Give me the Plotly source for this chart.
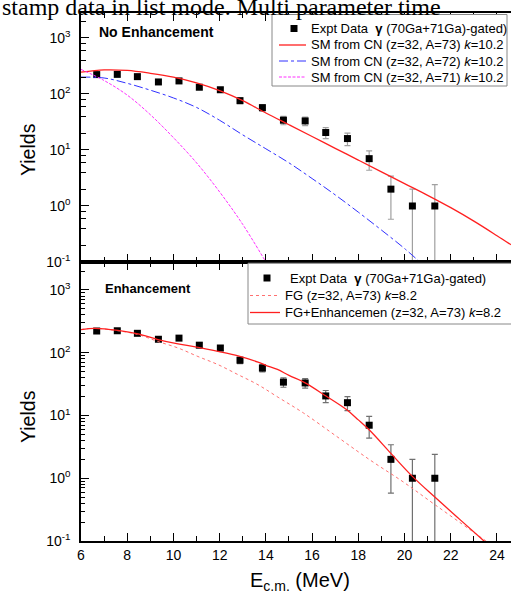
import plotly.graph_objects as go

# ---------------- data ----------------
e_data = [6.68, 7.57, 8.44, 9.35, 10.24, 11.12, 12.03, 12.88, 13.85, 14.76,
          15.70, 16.59, 17.53, 18.47, 19.41, 20.34, 21.31]
y_data = [222, 224, 204, 164, 171, 132, 119, 76, 57, 34,
          33, 20.5, 16, 7, 2.0, 1.0, 1.0]
err_plus = [15, 15, 14, 13, 13, 11.5, 11, 8.7, 7.5, 5.8,
            5.7, 4.5, 4.0, 2.65, 1.42, 1.0, 1.4]
err_minus = [15, 15, 14, 13, 13, 11.5, 11, 8.7, 7.5, 5.8,
             5.7, 4.5, 4.0, 2.65, 1.42, 0.99, 0.99]

# top panel: SM from CN
e_a73 = [6, 7, 8, 9, 10, 11, 12, 13, 14, 15, 16, 17, 18, 19, 20, 21, 22, 23, 24, 24.6]
y_a73 = [245, 269, 263, 234, 200, 158, 115, 75.9, 45.7, 28.2, 17.4, 10.7, 6.61,
         4.07, 2.51, 1.55, 0.933, 0.537, 0.295, 0.204]
e_a72 = [6, 7, 8, 9, 10, 11, 12, 13, 14, 15, 16, 17, 18, 19, 20, 20.8]
y_a72 = [200, 193, 155, 117, 85, 57.5, 33.9, 18.6, 10.5, 5.89, 3.09, 1.58,
         0.776, 0.372, 0.174, 0.089]
e_a71 = [6, 7, 8, 9, 10, 11, 12, 13, 14, 14.1]
y_a71 = [275, 174, 95.5, 42.7, 16.6, 5.89, 1.78, 0.468, 0.1, 0.085]

# bottom panel: FG and FG+Enhancement
e_fge = [6, 6.6, 7.6, 8.47, 9.33, 10.2, 11.06, 11.93, 12.8, 13.66, 14.0, 14.5, 15.0,
         15.7, 16.6, 17.5, 18.0, 18.5, 19.4, 20.34, 21.31, 22.4, 23.5]
y_fge = [234, 245, 227, 200, 162, 138, 122, 105, 89.1, 70.8, 63.1, 54.3, 43.6,
         33.1, 20.4, 12.3, 8.51, 5.75, 2.51, 1.07, 0.501, 0.219, 0.0955]
e_fg = [6, 6.6, 7.6, 8.47, 9.33, 10.2, 11.06, 11.93, 12.8, 13.66, 14.53, 15.62,
        17.07, 18.51, 19.95, 21.31, 22.84, 23.6]
y_fg = [234, 245, 224, 195, 151, 119, 87.1, 64.6, 44.7, 30.9, 19.5, 11.0,
        4.62, 1.95, 0.871, 0.380, 0.151, 0.0955]

x_ticks = [6, 8, 10, 12, 14, 16, 18, 20, 22, 24]
y_tickvals = [0.1, 1, 10, 100, 1000]
y_ticktext = ["10<sup>-1</sup>", "10<sup>0</sup>", "10<sup>1</sup>",
              "10<sup>2</sup>", "10<sup>3</sup>"]

expt_name = "Expt Data&nbsp; <b>γ</b> (70Ga+71Ga)-gated)"
top_names = ["SM from CN (z=32, A=73) <i>k</i>=10.2",
             "SM from CN (z=32, A=72) <i>k</i>=10.2",
             "SM from CN (z=32, A=71) <i>k</i>=10.2"]
bot_names = ["FG (z=32, A=73) <i>k</i>=8.2",
             "FG+Enhancemen (z=32, A=73) <i>k</i>=8.2"]

FONT = "Liberation Sans, Arial, sans-serif"
W, H = 511, 602
ML, MR, MT, MB = 81, 0, 13, 61
PW = W - ML - MR
PH = H - MT - MB
split = (541 - 262) / PH


def px(x):
    return (x - ML) / PW


def py(y):
    return 1 - (y - MT) / PH


RED = "#ff2020"
BLUE = "#3030ff"
MAG = "#ff30ff"
LRED = "#ff7070"

fig = go.Figure()

# ---- top panel ----
fig.add_trace(go.Scatter(
    x=e_data, y=y_data, mode="markers", name=expt_name,
    marker=dict(symbol="square", size=7, color="black"),
    error_y=dict(type="data", symmetric=False, array=err_plus, arrayminus=err_minus,
                 color="#a0a0a0", thickness=1.2, width=3),
    xaxis="x", yaxis="y"))
fig.add_trace(go.Scatter(
    x=e_a73, y=y_a73, mode="lines", line=dict(color=RED, width=1.3, shape="spline"),
    name=top_names[0], xaxis="x", yaxis="y"))
fig.add_trace(go.Scatter(
    x=e_a72, y=y_a72, mode="lines",
    line=dict(color=BLUE, width=1, dash="dashdot", shape="spline"),
    name=top_names[1], xaxis="x", yaxis="y"))
fig.add_trace(go.Scatter(
    x=e_a71, y=y_a71, mode="lines",
    line=dict(color=MAG, width=1, dash="3px,1.5px", shape="spline"),
    name=top_names[2], xaxis="x", yaxis="y"))

# ---- bottom panel ----
fig.add_trace(go.Scatter(
    x=e_data, y=y_data, mode="markers", name=expt_name,
    marker=dict(symbol="square", size=7, color="black"),
    error_y=dict(type="data", symmetric=False, array=err_plus, arrayminus=err_minus,
                 color="#707070", thickness=1.2, width=3),
    xaxis="x2", yaxis="y2"))
fig.add_trace(go.Scatter(
    x=e_fg, y=y_fg, mode="lines",
    line=dict(color=LRED, width=1, dash="dot", shape="spline"),
    name=bot_names[0], xaxis="x2", yaxis="y2"))
fig.add_trace(go.Scatter(
    x=e_fge, y=y_fge, mode="lines",
    line=dict(color=RED, width=1.3, shape="spline"),
    name=bot_names[1], xaxis="x2", yaxis="y2"))

xcommon = dict(range=[6, 6 + PW / 23.11], showline=True, linecolor="black", linewidth=1.5,
               mirror="ticks", ticks="inside", ticklen=8, tickwidth=1.3, tickcolor="black",
               tickvals=x_ticks, showgrid=False, zeroline=False,
               minor=dict(tickvals=[7, 9, 11, 13, 15, 17, 19, 21, 23], ticks="inside",
                          ticklen=5, tickwidth=1.2, tickcolor="black"),
               tickfont=dict(family=FONT, size=14, color="black"))
ycommon = dict(type="log", range=[-1, 3.446], showline=True, linecolor="black",
               linewidth=1.5, mirror=False, ticks="inside", ticklen=8, tickwidth=1.3,
               tickcolor="black", tickvals=y_tickvals, ticktext=y_ticktext,
               showgrid=False, zeroline=False, ticklabelstandoff=6,
               tickfont=dict(family=FONT, size=14, color="black"))

minor_top = [m * 10 ** k for k in (-1, 0, 1, 2, 3) for m in (2, 4, 6, 8)]
minor_bot = [m * 10 ** k for k in (-1, 0, 1, 2, 3) for m in (2, 3, 4, 5, 6, 7, 8, 9)]

fig.update_layout(
    width=W, height=H,
    margin=dict(l=ML, r=MR, t=MT, b=MB, autoexpand=False),
    paper_bgcolor="white", plot_bgcolor="white",
    font=dict(family=FONT, color="black"),
    showlegend=False,
    xaxis=dict(**xcommon, domain=[0, 1], anchor="y", showticklabels=False, matches="x2"),
    yaxis=dict(**ycommon, domain=[split, 1], anchor="x",
               minor=dict(tickvals=minor_top, ticks="inside", ticklen=5, tickwidth=1.2,
                          tickcolor="black")),
    xaxis2=dict(**xcommon, domain=[0, 1], anchor="y2"),
    yaxis2=dict(**ycommon, domain=[0, split], anchor="x2",
                minor=dict(tickvals=minor_bot, ticks="inside", ticklen=4, tickwidth=1,
                           tickcolor="black")),
)

# ---------------- legends (drawn as boxes, samples and text) ----------------
shapes = []
annots = []
LFONT = dict(family=FONT, size=13, color="black")


def box(x0, y0, x1, y1):
    shapes.append(dict(type="rect", xref="paper", yref="paper",
                       x0=px(x0), x1=px(x1), y0=py(y1), y1=py(y0),
                       fillcolor="white", line=dict(color="#888888", width=1), layer="above"))


def sample_line(x0, x1, y, color, dash, width):
    shapes.append(dict(type="line", xref="paper", yref="paper",
                       x0=px(x0), x1=px(x1), y0=py(y), y1=py(y),
                       line=dict(color=color, dash=dash, width=width), layer="above"))


def sample_square(xc, yc, s=3.5):
    shapes.append(dict(type="rect", xref="paper", yref="paper",
                       x0=px(xc - s), x1=px(xc + s), y0=py(yc + s), y1=py(yc - s),
                       fillcolor="black", line=dict(color="black", width=0), layer="above"))


def label(x, y, text):
    annots.append(dict(text=text, x=px(x), y=py(y), xanchor="left", yanchor="middle",
                       font=LFONT, showarrow=False, borderpad=0))


# top legend
box(272, 14.5, 507, 86)
sample_square(294, 28.5)
label(310, 28.5, expt_name)
top_styles = [(RED, "solid", 1.3), (BLUE, "dashdot", 1), (MAG, "3px,1.5px", 1)]
for i, (name, (c, d, w)) in enumerate(zip(top_names, top_styles)):
    yy = 45 + 16 * i
    sample_line(279, 306, yy, c, d, w)
    label(310, yy, name)

# bottom legend
box(248, 263.2, 540, 324)
sample_square(267, 278)
label(289, 278, expt_name)
bot_styles = [(LRED, "dot", 1), (RED, "solid", 1.3)]
for i, (name, (c, d, w)) in enumerate(zip(bot_names, bot_styles)):
    yy = 295.5 + 17 * i
    sample_line(250, 280, yy, c, d, w)
    label(284, yy, name)

annots += [
    dict(text="<b>No Enhancement</b>", x=px(97), y=py(32),
         xanchor="left", yanchor="middle", font=dict(family=FONT, size=14, color="black"),
         showarrow=False),
    dict(text="<b>Enhancement</b>", x=px(103), y=py(288),
         xanchor="left", yanchor="middle", font=dict(family=FONT, size=13, color="black"),
         showarrow=False),
    dict(text="Yields", x=px(28), y=py(150), textangle=-90,
         xanchor="center", yanchor="middle", font=dict(family=FONT, size=19.5, color="black"),
         showarrow=False),
    dict(text="Yields", x=px(28), y=py(417), textangle=-90,
         xanchor="center", yanchor="middle", font=dict(family=FONT, size=19.5, color="black"),
         showarrow=False),
    dict(text="E<sub>c.m.</sub> (MeV)", x=px(300), y=py(581),
         xanchor="center", yanchor="middle", font=dict(family=FONT, size=20, color="black"),
         showarrow=False),
    dict(text="stamp data in list mode. Multi parameter time", x=px(0),
         y=py(7), xanchor="left", yanchor="middle",
         font=dict(family="Liberation Serif, Times New Roman, serif", size=24, color="black"),
         showarrow=False),
]
for a in annots:
    a["xref"] = "paper"
    a["yref"] = "paper"
fig.update_layout(annotations=annots, shapes=shapes)

fig.write_html("out.html", config={"displayModeBar": False},
               post_script="document.body.style.margin='0';document.body.style.padding='0';"
                           "document.body.style.overflow='hidden';")
